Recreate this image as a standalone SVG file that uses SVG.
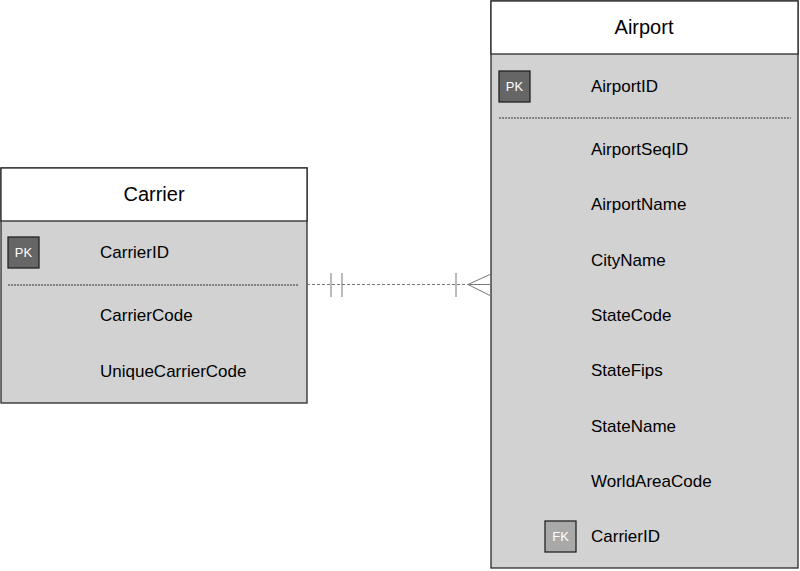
<svg xmlns="http://www.w3.org/2000/svg" width="800" height="571" viewBox="0 0 800 571">
<style>
.box{fill:#d2d2d2;stroke:#2a2a2a;stroke-width:1.3}
.hdr{fill:#fff;stroke:#2a2a2a;stroke-width:1.3}
.title{font-family:"Liberation Sans",Arial,sans-serif;font-size:20px;fill:#000;text-anchor:middle}
.row{font-family:"Liberation Sans",Arial,sans-serif;font-size:17px;fill:#000}
.pk{fill:#666;stroke:#222;stroke-width:1.3}
.fk{fill:#a9a9a9;stroke:#222;stroke-width:1.3}
.key{font-family:"Liberation Sans",Arial,sans-serif;font-size:13px;fill:#fff;text-anchor:middle}
.sep{stroke:#333;stroke-width:1;stroke-dasharray:2,1}
.conn{stroke:#777;stroke-width:1;fill:none}
</style>
<rect width="800" height="571" fill="#fff"/>
<g id="carrier">
<rect class="box" x="1" y="168" width="306" height="235"/>
<rect class="hdr" x="1" y="168" width="306" height="53"/>
<text class="title" x="154" y="201">Carrier</text>
<rect class="pk" x="8" y="237" width="31" height="31"/>
<text class="key" x="23.5" y="257">PK</text>
<text class="row" x="100" y="258">CarrierID</text>
<line class="sep" x1="8" y1="285" x2="299" y2="285"/>
<text class="row" x="100" y="321">CarrierCode</text>
<text class="row" x="100" y="377">UniqueCarrierCode</text>
</g>
<g id="airport">
<rect class="box" x="491" y="1" width="307" height="567"/>
<rect class="hdr" x="491" y="1" width="307" height="53"/>
<text class="title" x="644" y="34">Airport</text>
<rect class="pk" x="499" y="71" width="31" height="31"/>
<text class="key" x="514.5" y="91">PK</text>
<text class="row" x="591" y="92">AirportID</text>
<line class="sep" x1="499" y1="118" x2="791" y2="118"/>
<text class="row" x="591" y="155">AirportSeqID</text>
<text class="row" x="591" y="210">AirportName</text>
<text class="row" x="591" y="266">CityName</text>
<text class="row" x="591" y="321">StateCode</text>
<text class="row" x="591" y="376">StateFips</text>
<text class="row" x="591" y="432">StateName</text>
<text class="row" x="591" y="487">WorldAreaCode</text>
<rect class="fk" x="545" y="521" width="31" height="31"/>
<text class="key" x="560.5" y="541">FK</text>
<text class="row" x="591" y="542">CarrierID</text>
</g>
<g id="connectors">
<line class="conn" x1="307" y1="284.5" x2="491" y2="284.5" stroke-dasharray="3,2"/>
<line class="conn" x1="331" y1="273" x2="331" y2="297"/>
<line class="conn" x1="342" y1="273" x2="342" y2="297"/>
<line class="conn" x1="456" y1="273" x2="456" y2="297"/>
<path class="conn" d="M491 274 L468 284.5 L491 296 M468 284.5 L491 284.5"/>
</g>
</svg>
